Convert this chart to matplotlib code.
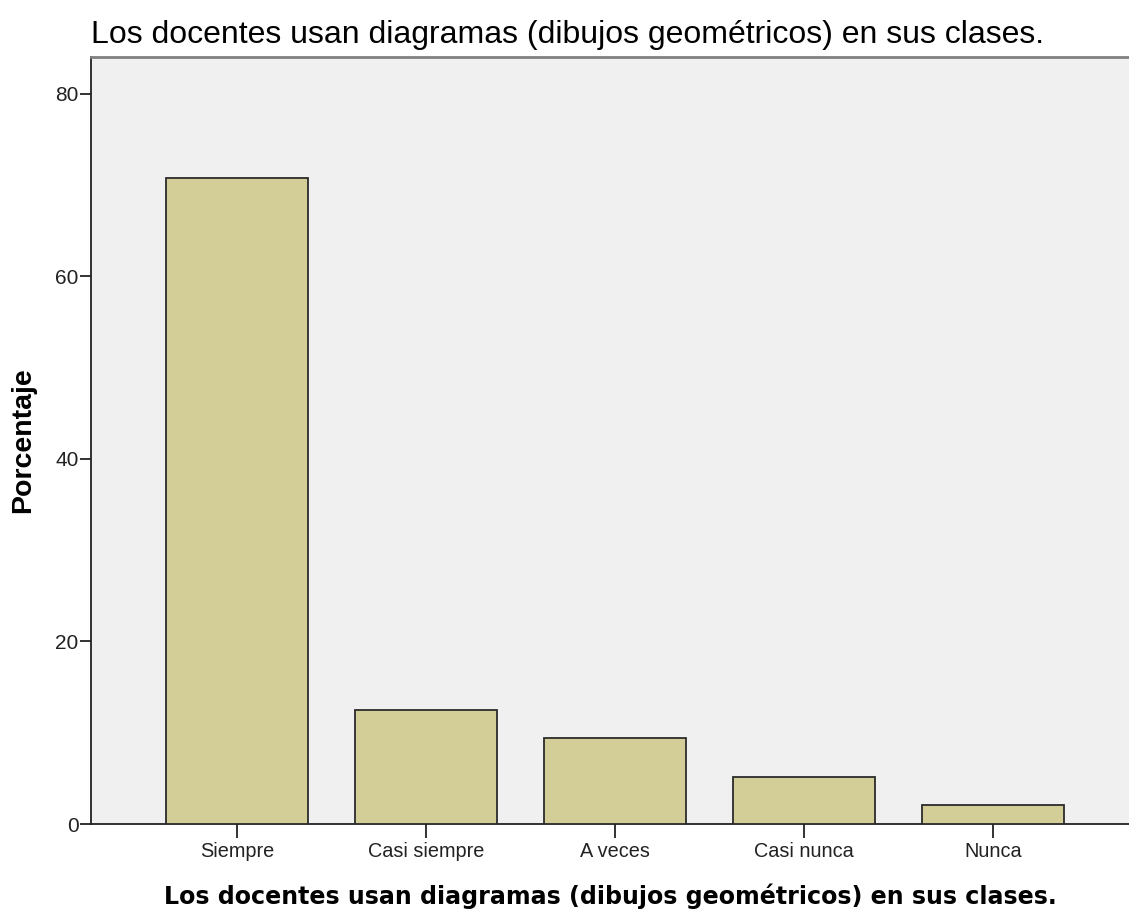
import matplotlib.pyplot as plt
import numpy as np

categorias = ['Siempre', 'Casi siempre', 'A veces', 'Casi nunca', 'Nunca']
porcentaje = [70.8, 12.5, 9.4, 5.2, 2.1]
titulo = 'Los docentes usan diagramas (dibujos geométricos) en sus clases.'

fig = plt.figure(figsize=(11.29, 9.09), dpi=100)
ax = fig.add_axes([91 / 1129, 1 - 824 / 909, 1 - 91 / 1129, (824 - 57) / 909])
ax.set_facecolor('#f0f0f0')

x = np.arange(len(categorias))
ax.bar(x, porcentaje, width=0.75, color='#d3ce98', edgecolor='#2b2b2b', linewidth=1.3, zorder=3)

ax.set_xlim(-0.772, 4.72)
ax.set_ylim(0, 84)
ax.set_yticks([0, 20, 40, 60, 80])
ax.set_xticks(x)
ax.set_xticklabels(categorias)

ax.spines['right'].set_visible(False)
ax.spines['top'].set_color('#808080')
ax.spines['top'].set_linewidth(2)
ax.spines['left'].set_color('#222222')
ax.spines['bottom'].set_color('#222222')
ax.spines['left'].set_linewidth(1.3)
ax.spines['bottom'].set_linewidth(1.3)

ax.tick_params(axis='y', length=8, width=1.3, color='#222222', labelsize=15,
               labelcolor='#222222', pad=1)
ax.tick_params(axis='x', length=10, width=1.3, color='#222222', labelsize=14.3,
               labelcolor='#222222', pad=3)
for lbl in ax.get_xticklabels() + ax.get_yticklabels():
    lbl.set_family('Liberation Sans')

ax.set_ylabel('Porcentaje', family='Liberation Sans', fontweight='bold', fontsize=20.5, labelpad=14)
ax.set_xlabel(titulo, family='DejaVu Sans', fontweight='bold', fontsize=17.1, labelpad=16)
fig.text(91 / 1129, 1 - 35 / 909, titulo, family='Liberation Sans', fontsize=23,
         ha='left', va='center')

fig.savefig('out.png', dpi=100)
